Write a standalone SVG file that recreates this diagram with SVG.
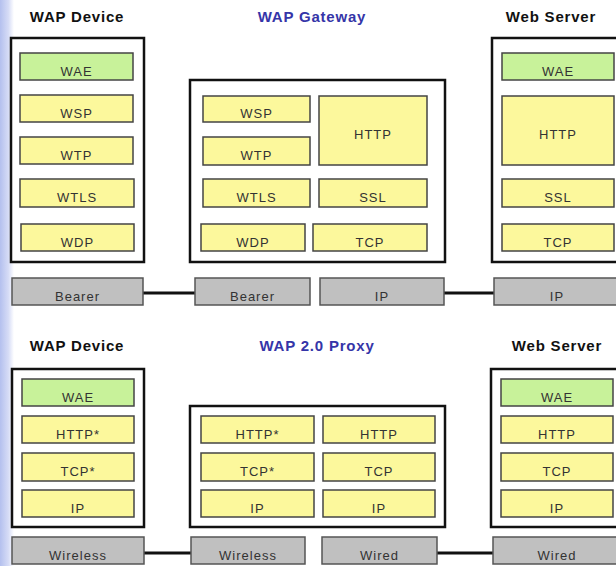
<svg xmlns="http://www.w3.org/2000/svg" width="616" height="566" viewBox="0 0 616 566">
<defs>
<linearGradient id="edge" x1="0" y1="0" x2="1" y2="0">
<stop offset="0" stop-color="#b4c0ee"/>
<stop offset="0.6" stop-color="#d6dcf6"/>
<stop offset="1" stop-color="#ffffff"/>
</linearGradient>
</defs>
<style>
.title{font-family:"Liberation Sans",Arial,sans-serif;font-weight:bold;font-size:15px;letter-spacing:0.8px;text-anchor:middle;fill:#111}
.blue{fill:#3535a8}
.outer{fill:#fff;stroke:#111;stroke-width:2.5}
.ly{stroke:#444;stroke-width:1.5}
.y{fill:#fcf89c}
.g{fill:#c8f29a}
.gr{fill:#c0c0c0;stroke:#555;stroke-width:1.5}
.t{font-family:"Liberation Sans",Arial,sans-serif;font-size:13px;letter-spacing:1px;text-anchor:middle;fill:#333}
.conn{stroke:#111;stroke-width:3;fill:none}
</style>
<rect x="0" y="0" width="616" height="566" fill="#fff"/>
<rect x="0" y="0" width="14" height="566" fill="url(#edge)"/>

<!-- Titles -->
<text class="title" x="77" y="22">WAP Device</text>
<text class="title blue" x="312" y="22">WAP Gateway</text>
<text class="title" x="551" y="22">Web Server</text>
<text class="title" x="77" y="351">WAP Device</text>
<text class="title blue" x="317" y="351">WAP 2.0 Proxy</text>
<text class="title" x="557" y="351">Web Server</text>

<!-- Connectors -->
<g id="connectors">
<line class="conn" x1="143" y1="293" x2="195" y2="293"/>
<line class="conn" x1="444" y1="293" x2="494" y2="293"/>
<line class="conn" x1="144" y1="553" x2="191" y2="553"/>
<line class="conn" x1="437" y1="553" x2="493" y2="553"/>
</g>

<!-- Top: WAP Device -->
<g id="top-device">
<rect class="outer" x="11" y="38" width="133" height="224"/>
<g id="td-wae"><rect class="ly g" x="20" y="53" width="113" height="27"/><text class="t" x="76.5" y="76">WAE</text></g>
<g id="td-wsp"><rect class="ly y" x="20" y="95" width="113" height="27"/><text class="t" x="76.5" y="118">WSP</text></g>
<g id="td-wtp"><rect class="ly y" x="20" y="137" width="113" height="27"/><text class="t" x="76.5" y="160">WTP</text></g>
<g id="td-wtls"><rect class="ly y" x="20" y="179" width="114" height="28"/><text class="t" x="77" y="202">WTLS</text></g>
<g id="td-wdp"><rect class="ly y" x="21" y="224" width="113" height="27"/><text class="t" x="77.5" y="247">WDP</text></g>
</g>
<g id="td-bearer"><rect class="gr" x="12" y="278" width="131" height="27"/><text class="t" x="77.5" y="301">Bearer</text></g>

<!-- Top: WAP Gateway -->
<g id="gateway">
<rect class="outer" x="190" y="80" width="255" height="182"/>
<g id="gw-wsp"><rect class="ly y" x="203" y="96" width="107" height="26"/><text class="t" x="256.5" y="118">WSP</text></g>
<g id="gw-wtp"><rect class="ly y" x="203" y="137" width="107" height="28"/><text class="t" x="256.5" y="160">WTP</text></g>
<g id="gw-http"><rect class="ly y" x="319" y="96" width="108" height="69"/><text class="t" x="373" y="139">HTTP</text></g>
<g id="gw-wtls"><rect class="ly y" x="203" y="179" width="107" height="28"/><text class="t" x="256.5" y="202">WTLS</text></g>
<g id="gw-ssl"><rect class="ly y" x="319" y="179" width="108" height="28"/><text class="t" x="373" y="202">SSL</text></g>
<g id="gw-wdp"><rect class="ly y" x="201" y="224" width="104" height="27"/><text class="t" x="253" y="247">WDP</text></g>
<g id="gw-tcp"><rect class="ly y" x="313" y="224" width="114" height="27"/><text class="t" x="370" y="247">TCP</text></g>
</g>
<g id="gw-bearer"><rect class="gr" x="195" y="278" width="115" height="27"/><text class="t" x="252.5" y="301">Bearer</text></g>
<g id="gw-ip"><rect class="gr" x="320" y="278" width="124" height="27"/><text class="t" x="382" y="301">IP</text></g>

<!-- Top: Web Server -->
<g id="top-server">
<rect class="outer" x="492" y="38" width="132" height="224"/>
<g id="ts-wae"><rect class="ly g" x="502" y="53" width="112" height="27"/><text class="t" x="558" y="76">WAE</text></g>
<g id="ts-http"><rect class="ly y" x="502" y="96" width="112" height="69"/><text class="t" x="558" y="139">HTTP</text></g>
<g id="ts-ssl"><rect class="ly y" x="502" y="179" width="112" height="28"/><text class="t" x="558" y="202">SSL</text></g>
<g id="ts-tcp"><rect class="ly y" x="502" y="224" width="112" height="27"/><text class="t" x="558" y="247">TCP</text></g>
</g>
<g id="ts-ip"><rect class="gr" x="494" y="278" width="130" height="27"/><text class="t" x="557" y="301">IP</text></g>

<!-- Bottom: WAP Device -->
<g id="bottom-device">
<rect class="outer" x="12" y="369" width="132" height="158"/>
<g id="bd-wae"><rect class="ly g" x="22" y="379" width="112" height="27"/><text class="t" x="78" y="402">WAE</text></g>
<g id="bd-http"><rect class="ly y" x="22" y="416" width="112" height="27"/><text class="t" x="78" y="439">HTTP*</text></g>
<g id="bd-tcp"><rect class="ly y" x="22" y="453" width="112" height="28"/><text class="t" x="78" y="476">TCP*</text></g>
<g id="bd-ip"><rect class="ly y" x="22" y="490" width="112" height="27"/><text class="t" x="78" y="513">IP</text></g>
</g>
<g id="bd-wireless"><rect class="gr" x="12" y="537" width="132" height="27"/><text class="t" x="78" y="560">Wireless</text></g>

<!-- Bottom: WAP 2.0 Proxy -->
<g id="proxy">
<rect class="outer" x="190" y="406" width="255" height="121"/>
<g id="px-http1"><rect class="ly y" x="201" y="416" width="113" height="27"/><text class="t" x="257.5" y="439">HTTP*</text></g>
<g id="px-http2"><rect class="ly y" x="323" y="416" width="112" height="27"/><text class="t" x="379" y="439">HTTP</text></g>
<g id="px-tcp1"><rect class="ly y" x="201" y="453" width="113" height="28"/><text class="t" x="257.5" y="476">TCP*</text></g>
<g id="px-tcp2"><rect class="ly y" x="323" y="453" width="112" height="28"/><text class="t" x="379" y="476">TCP</text></g>
<g id="px-ip1"><rect class="ly y" x="201" y="490" width="113" height="27"/><text class="t" x="257.5" y="513">IP</text></g>
<g id="px-ip2"><rect class="ly y" x="323" y="490" width="112" height="27"/><text class="t" x="379" y="513">IP</text></g>
</g>
<g id="px-wireless"><rect class="gr" x="191" y="537" width="114" height="27"/><text class="t" x="248" y="560">Wireless</text></g>
<g id="px-wired"><rect class="gr" x="322" y="537" width="115" height="27"/><text class="t" x="379.5" y="560">Wired</text></g>

<!-- Bottom: Web Server -->
<g id="bottom-server">
<rect class="outer" x="491" y="369" width="133" height="158"/>
<g id="bs-wae"><rect class="ly g" x="501" y="379" width="112" height="27"/><text class="t" x="557" y="402">WAE</text></g>
<g id="bs-http"><rect class="ly y" x="501" y="416" width="112" height="27"/><text class="t" x="557" y="439">HTTP</text></g>
<g id="bs-tcp"><rect class="ly y" x="501" y="453" width="112" height="28"/><text class="t" x="557" y="476">TCP</text></g>
<g id="bs-ip"><rect class="ly y" x="501" y="490" width="112" height="27"/><text class="t" x="557" y="513">IP</text></g>
</g>
<g id="bs-wired"><rect class="gr" x="493" y="537" width="131" height="27"/><text class="t" x="557" y="560">Wired</text></g>
</svg>
